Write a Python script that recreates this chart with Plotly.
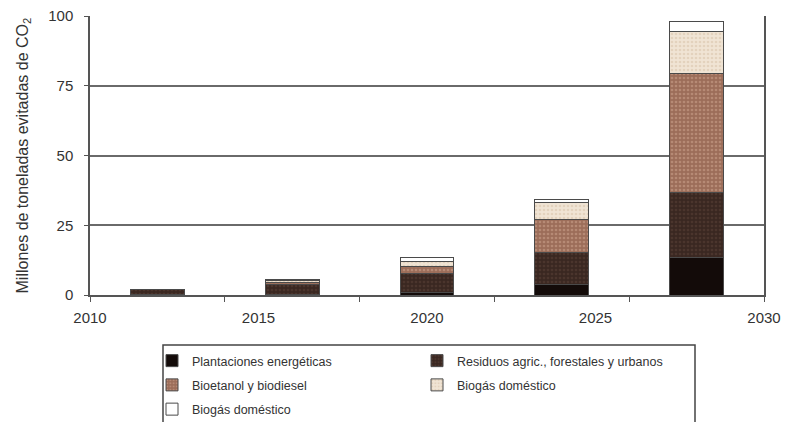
import plotly.graph_objects as go

# ---- data ----
years = [2012, 2016, 2020, 2024, 2028]
plantaciones = [0.2, 0.3, 1.0, 3.6, 13.5]
residuos = [1.8, 3.4, 6.8, 11.6, 23.2]
bioetanol = [0.0, 0.8, 2.3, 11.9, 42.8]
biogas_crema = [0.0, 0.7, 1.8, 5.9, 15.1]
biogas_blanco = [0.0, 0.5, 1.6, 1.3, 3.6]

series_names = [
    "Plantaciones energéticas",
    "Residuos agric., forestales y urbanos",
    "Bioetanol y biodiesel",
    "Biogás doméstico",
    "Biogás doméstico",
]
x_label_vals = [2010, 2015, 2020, 2025, 2030]
x_minor_ticks = [2010, 2014, 2018, 2022, 2026, 2030]
y_ticks = [0, 25, 50, 75, 100]
y_title = "Millones de toneladas evitadas de CO<sub>2</sub>"

FONT = "Liberation Sans, Arial, sans-serif"
TXT = "#333333"
W, H = 787, 422
PL, PR, PT, PB = 90, 23, 16, 127
PW = W - PL - PR

styles = [
    dict(color="#130b09", fg="#2a1d19", shape="", leg="legend"),
    dict(color="#3a2721", fg="#5c443a", shape=".", leg="legend2"),
    dict(color="#9c6d59", fg="#cfa892", shape=".", leg="legend"),
    dict(color="#f0e4d4", fg="#d6c0a6", shape=".", leg="legend2"),
    dict(color="#ffffff", fg="#ffffff", shape="", leg="legend"),
]
values = [plantaciones, residuos, bioetanol, biogas_crema, biogas_blanco]

fig = go.Figure()
for i, (name, vals, st) in enumerate(zip(series_names, values, styles)):
    fig.add_trace(go.Bar(
        x=years, y=vals, name=name, width=1.6,
        legend=st["leg"], legendgroup="g%d" % i,
        marker=dict(
            color=st["color"],
            line=dict(color="#4a4a4a", width=1),
            pattern=dict(shape=st["shape"], fgcolor=st["fg"], size=4, solidity=0.35,
                         fillmode="overlay"),
        ),
    ))

leg_common = dict(
    xref="container", yref="container", xanchor="left", yanchor="top",
    orientation="v", traceorder="grouped", tracegroupgap=5,
    bgcolor="rgba(0,0,0,0)", borderwidth=0,
    font=dict(size=12.5, color=TXT, family=FONT),
)

fig.update_layout(
    width=W, height=H,
    margin=dict(l=PL, r=PR, t=PT, b=PB, autoexpand=False),
    barmode="stack",
    paper_bgcolor="white", plot_bgcolor="white",
    font=dict(family=FONT, color=TXT, size=14),
    xaxis=dict(
        range=[2010, 2030], tickmode="array", tickvals=x_label_vals,
        ticks="", ticklabelstandoff=8, showgrid=False, zeroline=False,
        showline=True, linecolor="#555555", linewidth=1.5,
        tickfont=dict(size=15, color=TXT),
        minor=dict(tickmode="array", tickvals=x_minor_ticks, ticks="outside",
                   ticklen=5, tickcolor="#555555", showgrid=False),
    ),
    yaxis=dict(
        range=[0, 100], tickmode="array", tickvals=y_ticks,
        ticks="outside", ticklen=4, tickcolor="#555555", ticklabelstandoff=8,
        showgrid=True, gridcolor="#6a6a6a", gridwidth=1.5, zeroline=False,
        showline=True, linecolor="#555555", linewidth=1.5, mirror=True,
        tickfont=dict(size=15, color=TXT),
    ),
    legend=dict(x=152 / W, y=1 - 346 / H, **leg_common),
    legend2=dict(x=417 / W, y=1 - 346 / H, **leg_common),
    annotations=[dict(
        text=y_title, xref="paper", yref="paper", x=(23 - PL) / PW, y=0.5,
        xanchor="center", yanchor="middle", textangle=-90, showarrow=False,
        font=dict(size=16, color=TXT, family=FONT),
    )],
    shapes=[dict(
        type="rect", xref="paper", yref="paper",
        x0=(163 - PL) / PW, x1=(695 - PL) / PW,
        y0=-0.7, y1=(295 - 345) / 279,
        line=dict(color="#444444", width=1.5), fillcolor="rgba(0,0,0,0)",
        layer="below",
    )],
)

fig.write_html("out.html", config={"displayModeBar": False},
               post_script="document.body.style.margin='0px';")
